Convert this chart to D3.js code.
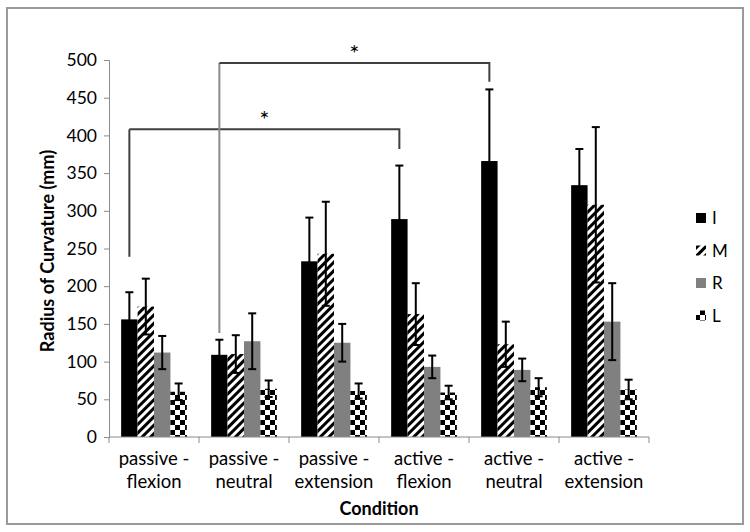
<!DOCTYPE html>
<html><head><meta charset="utf-8">
<script src="https://cdn.jsdelivr.net/npm/d3@7"></script>
<style>body{margin:0;background:#fff}svg{display:block}text{font-family:Lato,"Open Sans",sans-serif;fill:#000}</style>
</head><body>
<svg id="c" width="750" height="532"></svg>
<script>
const categories = [["passive -","flexion"],["passive -","neutral"],["passive -","extension"],["active -","flexion"],["active -","neutral"],["active -","extension"]];
const series = ["I","M","R","L"];
const meanI = [156,109,233,289,366,334];
const meanM = [173,110,243,163,123,308];
const meanR = [112,127,125,93,89,153];
const meanL = [60,64,61,59,66,63];
const sdI = [36,20,58,71,95,48];
const sdM = [37,25,69,41,30,103];
const sdR = [22,37,25,15,15,51];
const sdL = [11,11,10,9,12,13];
const yTicks = [0,50,100,150,200,250,300,350,400,450,500];
// significance brackets
const brackets = [
  {from:0,to:3,s:"I",level:408,leftEnd:239,rightEnd:382,leftColor:"#404040"},
  {from:1,to:4,s:"I",level:496,leftEnd:138,rightEnd:471,leftColor:"#8a8a8a"}
];

const means = {I:meanI,M:meanM,R:meanR,L:meanL};
const sds = {I:sdI,M:sdM,R:sdR,L:sdL};
const catKeys = categories.map(c=>c.join(" "));

const svg = d3.select("#c");
const defs = svg.append("defs");
const pd = defs.append("pattern").attr("id","diag").attr("patternUnits","userSpaceOnUse")
  .attr("width",6).attr("height",6).attr("patternTransform","rotate(45)");
pd.append("rect").attr("width",6).attr("height",6).attr("fill","#fff");
pd.append("rect").attr("width",3).attr("height",6).attr("fill","#000");
const pc = defs.append("pattern").attr("id","check").attr("patternUnits","userSpaceOnUse")
  .attr("width",10).attr("height",10);
pc.append("rect").attr("width",10).attr("height",10).attr("fill","#fff");
pc.append("rect").attr("width",5).attr("height",5).attr("fill","#000");
pc.append("rect").attr("x",5).attr("y",5).attr("width",5).attr("height",5).attr("fill","#000");
const fills = {I:"#000",M:"url(#diag)",R:"#808080",L:"url(#check)"};

// outer border
svg.append("rect").attr("x",7).attr("y",8).attr("width",736).attr("height",516)
  .attr("fill","none").attr("stroke","#9a9a9a").attr("stroke-width",2);

const y = d3.scaleLinear().domain([0,500]).range([437,60]);
const x0 = d3.scaleBand().domain(catKeys).range([109,649]).paddingInner(0.27).paddingOuter(0.135);
const x1 = d3.scaleBand().domain(series).range([0,x0.bandwidth()]);

// axes
const yAxis = svg.append("g").attr("transform","translate(109,0)")
  .call(d3.axisLeft(y).tickValues(yTicks).tickSize(5).tickPadding(7));
yAxis.select(".domain").attr("stroke","#8a8a8a");
yAxis.selectAll(".tick line").attr("stroke","#8a8a8a");
yAxis.selectAll(".tick text").attr("font-size",17.5).attr("fill","#000").style("font-family","Lato");

// bars
series.forEach(s=>{
  svg.append("g").selectAll("rect").data(catKeys).join("rect")
    .attr("x",(c)=>x0(c)+x1(s)).attr("width",x1.bandwidth())
    .attr("y",(c,i)=>y(means[s][i])).attr("height",(c,i)=>y(0)-y(means[s][i]))
    .attr("fill",fills[s]);
});
// error bars
series.forEach(s=>{
  const g = svg.append("g").attr("stroke","#000").attr("stroke-width",2);
  catKeys.forEach((c,i)=>{
    const cx = x0(c)+x1(s)+x1.bandwidth()/2;
    const top = y(means[s][i]+sds[s][i]), bot = y(means[s][i]-sds[s][i]);
    g.append("line").attr("x1",cx).attr("x2",cx).attr("y1",top).attr("y2",bot);
    g.append("line").attr("x1",cx-4).attr("x2",cx+4).attr("y1",top).attr("y2",top);
    g.append("line").attr("x1",cx-4).attr("x2",cx+4).attr("y1",bot).attr("y2",bot);
  });
});

// x axis
const xAxisG = svg.append("g");
xAxisG.append("line").attr("x1",109).attr("x2",649).attr("y1",437).attr("y2",437).attr("stroke","#8a8a8a");
const bounds = catKeys.map(c=>x0(c)-x0.step()*x0.paddingInner()/2).concat([649]);
bounds.forEach(b=>xAxisG.append("line").attr("x1",b).attr("x2",b).attr("y1",437).attr("y2",443).attr("stroke","#8a8a8a"));
catKeys.forEach((c,i)=>{
  const cx = x0(c)+x0.bandwidth()/2;
  const t = xAxisG.append("text").attr("x",cx).attr("y",465)
    .attr("text-anchor","middle").attr("font-size",18.5);
  t.append("tspan").attr("x",cx).attr("dy",0).text(categories[i][0]);
  t.append("tspan").attr("x",cx).attr("dy",23).text(categories[i][1]);
});

// titles
svg.append("text").attr("x",379).attr("y",515).attr("text-anchor","middle")
  .attr("font-size",18).attr("font-weight","bold").text("Condition");
svg.append("text").attr("transform","translate(54,251) rotate(-90)").attr("text-anchor","middle")
  .attr("font-size",18).attr("font-weight","bold").text("Radius of Curvature (mm)");

// brackets
brackets.forEach(b=>{
  const xl = x0(catKeys[b.from])+x1(b.s)+x1.bandwidth()/2;
  const xr = x0(catKeys[b.to])+x1(b.s)+x1.bandwidth()/2;
  svg.append("line").attr("x1",xl).attr("x2",xl).attr("y1",y(b.level)).attr("y2",y(b.leftEnd))
    .attr("stroke",b.leftColor).attr("stroke-width",2);
  svg.append("path").attr("d",`M${xl},${y(b.level)}H${xr}V${y(b.rightEnd)}`)
    .attr("fill","none").attr("stroke","#404040").attr("stroke-width",2);
  svg.append("text").attr("x",(xl+xr)/2).attr("y",y(b.level)-1).attr("text-anchor","middle")
    .attr("font-size",24).text("*");
});

// legend
const lg = svg.append("g");
series.forEach((s,i)=>{
  const yy = 218+i*32.5;
  lg.append("rect").attr("x",696).attr("y",yy-5).attr("width",10).attr("height",10).attr("fill",fills[s]);
  lg.append("text").attr("x",712).attr("y",yy+6).attr("font-size",17).text(s);
});
</script>
</body></html>
